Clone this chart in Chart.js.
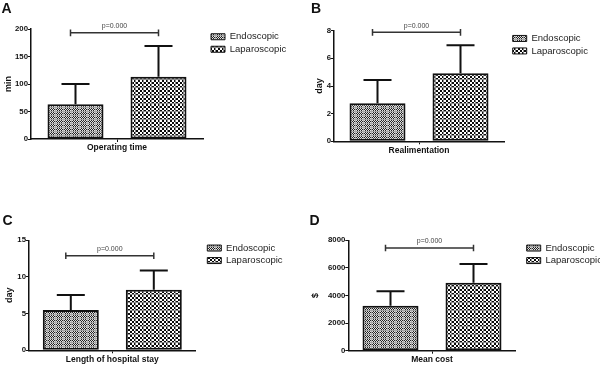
<!DOCTYPE html>
<html>
<head>
<meta charset="utf-8">
<script src="https://cdn.jsdelivr.net/npm/chart.js@4/dist/chart.umd.min.js"></script>
<style>
  html, body { margin: 0; padding: 0; background: #fff; }
  #wrap { position: relative; width: 600px; height: 366px; overflow: hidden; }
  canvas { position: absolute; }
  .lbl { position: absolute; font: bold 14px/14px 'Liberation Sans', Arial, sans-serif; color: #111; }
</style>
</head>
<body>
<div id="wrap"></div>
<script>
// ---------------- data ----------------
const panelLetters = ['A', 'B', 'C', 'D'];
const categories = ['Operating time', 'Realimentation', 'Length of hospital stay', 'Mean cost'];
const yTitles = ['min', 'day', 'day', '$'];
const seriesNames = ['Endoscopic', 'Laparoscopic'];
const endoscopicMean = [63, 2.75, 5.5, 3260];
const endoscopicSD = [37, 1.68, 2.05, 1045];
const laparoscopicMean = [113, 4.92, 8.27, 4930];
const laparoscopicSD = [56, 2.02, 2.6, 1355];
const yMax = [200, 8, 15, 8000];
const yStep = [50, 2, 5, 2000];
const pLabels = ['p=0.000', 'p=0.000', 'p=0.000', 'p=0.000'];
const bracketLevel = [193, 7.88, 12.9, 7440];

// ---------------- layout (pixels) ----------------
const geom = [
  {x: 0,   y: 0,   left: 31,   top: 29,   right: 203,   bottom: 139,   legendX: 211,   titleX: 8.3, letterX: 1.5, letterY: 1.4},
  {x: 300, y: 0,   left: 34,   top: 30.7, right: 204,   bottom: 141.3, legendX: 212.7, titleX: 19.3, letterX: 11, letterY: 1.2},
  {x: 0,   y: 183, left: 29,   top: 57.3, right: 195.6, bottom: 167.3, legendX: 207.3, titleX: 10, letterX: 2.5, letterY: 29.5},
  {x: 300, y: 183, left: 48.3, top: 57.3, right: 215.7, bottom: 167.7, legendX: 226.7, titleX: 16, letterX: 9.5, letterY: 30}
];
const PW = 330, PH = 183, LEGPAD = 3, LEGFONT = 9.5, LEGBOX = 14;
const SLOT = 83, BARW = 56;
const FONT = "'Liberation Sans', Arial, sans-serif";
Chart.defaults.font.family = FONT;

const mctx = document.createElement('canvas').getContext('2d');
mctx.font = LEGFONT + 'px ' + FONT;
const maxTextW = Math.max(...seriesNames.map(s => mctx.measureText(s).width));
const LEGW = LEGPAD + LEGBOX + LEGFONT / 2 + maxTextW + 10;

function makePattern(kind) {
  const c = document.createElement('canvas');
  c.width = 8; c.height = 8;
  const g = c.getContext('2d');
  const img = g.createImageData(8, 8);
  for (let y = 0; y < 8; y++) {
    for (let x = 0; x < 8; x++) {
      let v;
      if (kind === 0) {
        v = ((x + y) % 2) ? 35 : 225;
        if (y % 4 === 3) v = 160;
        if (x === 7) v = 170;
      } else {
        v = ((Math.floor(x / 2) + Math.floor(y / 2)) % 2) ? 10 : 255;
        if (y === 7 || x === 7) v = 140;
      }
      const k = (y * 8 + x) * 4;
      img.data[k] = img.data[k + 1] = img.data[k + 2] = v;
      img.data[k + 3] = 255;
    }
  }
  g.putImageData(img, 0, 0);
  return g.createPattern(c, 'repeat');
}

const annotPlugin = {
  id: 'annot',
  afterDatasetsDraw(chart, args, opts) {
    const i = opts.idx;
    const ctx = chart.ctx, ys = chart.scales.y;
    const means = [endoscopicMean[i], laparoscopicMean[i]];
    const sds = [endoscopicSD[i], laparoscopicSD[i]];
    ctx.save();
    ctx.strokeStyle = '#111';
    ctx.lineWidth = 2;
    chart.data.datasets.forEach((ds, d) => {
      const bar = chart.getDatasetMeta(d).data[0];
      const yTop = ys.getPixelForValue(means[d] + sds[d]);
      const half = bar.width / 4;
      ctx.beginPath();
      ctx.moveTo(bar.x, bar.y);
      ctx.lineTo(bar.x, yTop);
      ctx.moveTo(bar.x - half, yTop);
      ctx.lineTo(bar.x + half, yTop);
      ctx.stroke();
    });
    const b0 = chart.getDatasetMeta(0).data[0];
    const b1 = chart.getDatasetMeta(1).data[0];
    const by = ys.getPixelForValue(bracketLevel[i]);
    const x1 = b0.x - 5, x2 = b1.x;
    ctx.strokeStyle = '#333';
    ctx.lineWidth = 1.5;
    ctx.beginPath();
    ctx.moveTo(x1, by); ctx.lineTo(x2, by);
    ctx.moveTo(x1, by - 3.3); ctx.lineTo(x1, by + 3.3);
    ctx.moveTo(x2, by - 3.3); ctx.lineTo(x2, by + 3.3);
    ctx.stroke();
    ctx.fillStyle = '#444';
    ctx.font = '7px ' + FONT;
    ctx.textAlign = 'center';
    ctx.textBaseline = 'middle';
    ctx.fillText(pLabels[i], (x1 + x2) / 2, by - 6.5);
    ctx.restore();
  }
};

const wrap = document.getElementById('wrap');
const patEndo = makePattern(0);
const patLap = makePattern(1);

geom.forEach((g, i) => {
  const cv = document.createElement('canvas');
  cv.width = PW; cv.height = PH;
  cv.style.left = g.x + 'px'; cv.style.top = g.y + 'px';
  wrap.appendChild(cv);

  const lab = document.createElement('div');
  lab.className = 'lbl';
  lab.textContent = panelLetters[i];
  lab.style.left = (g.x + g.letterX) + 'px';
  lab.style.top = (g.y + g.letterY) + 'px';
  wrap.appendChild(lab);

  const gap = g.legendX - LEGPAD - g.right;
  const areaW = g.right - g.left;
  new Chart(cv, {
    type: 'bar',
    data: {
      labels: [categories[i]],
      datasets: [
        {label: seriesNames[0], data: [endoscopicMean[i]], backgroundColor: patEndo, borderColor: '#111', borderWidth: 2, borderSkipped: false, xAxisID: 'x', yAxisID: 'y'},
        {label: seriesNames[1], data: [laparoscopicMean[i]], backgroundColor: patLap, borderColor: '#111', borderWidth: 2, borderSkipped: false, xAxisID: 'x', yAxisID: 'y'}
      ]
    },
    options: {
      responsive: false,
      animation: false,
      devicePixelRatio: 1,
      categoryPercentage: (2 * SLOT) / areaW,
      barPercentage: BARW / SLOT,
      layout: {padding: {left: 0, top: g.top, right: PW - g.right - gap - LEGW, bottom: 0}},
      scales: {
        x: {
          type: 'category',
          offset: true,
          grid: {display: true, drawOnChartArea: false, drawTicks: true, tickLength: 3, offset: false, color: '#111', lineWidth: 1},
          border: {display: true, color: '#111', width: 1.5},
          ticks: {color: '#111', font: {size: 8.5, weight: 'bold'}, padding: 1, maxRotation: 0, autoSkip: false},
          afterFit(s) { s.height = PH - g.bottom; }
        },
        y: {
          type: 'linear',
          min: 0, max: yMax[i],
          grid: {display: true, drawOnChartArea: false, drawTicks: true, tickLength: 3, color: '#111', lineWidth: 1},
          border: {display: true, color: '#111', width: 1.5},
          ticks: {stepSize: yStep[i], color: '#111', font: {size: 7.8, weight: 'bold'}, padding: 0, callback: v => String(v)},
          title: {display: true, text: yTitles[i], color: '#111', font: {size: 9, weight: 'bold'}, padding: {top: g.titleX - 5.4, bottom: 0}},
          afterFit(s) { s.width = g.left; }
        },
        yGap: {
          type: 'linear', axis: 'y', position: 'right', display: true,
          grid: {display: false, drawTicks: false},
          border: {display: false},
          ticks: {display: false},
          afterFit(s) { s.width = gap; }
        }
      },
      plugins: {
        tooltip: {enabled: false},
        annot: {idx: i},
        legend: {
          display: true,
          position: 'right',
          align: 'start',
          fullSize: false,
          maxWidth: LEGW,
          labels: {
            boxWidth: LEGBOX, boxHeight: 6, padding: LEGPAD, color: '#222',
            font: {size: LEGFONT},
            generateLabels(chart) {
              return Chart.defaults.plugins.legend.labels.generateLabels(chart).map(l => Object.assign(l, {lineWidth: 1}));
            }
          }
        }
      }
    },
    plugins: [annotPlugin]
  });
});
</script>
</body>
</html>
